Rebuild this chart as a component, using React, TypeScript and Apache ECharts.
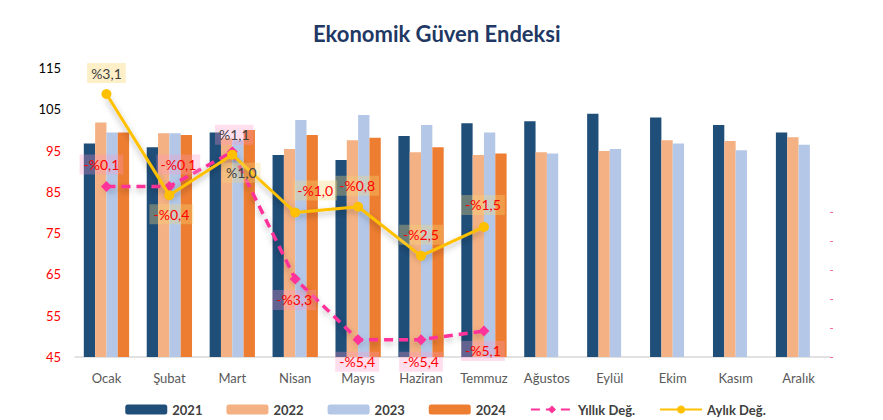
import React, { useEffect, useRef } from "react";
import * as echarts from "echarts";

const months = ["Ocak", "Şubat", "Mart", "Nisan", "Mayıs", "Haziran", "Temmuz", "Ağustos", "Eylül", "Ekim", "Kasım", "Aralık"];
const y2021 = [96.7, 95.8, 99.4, 93.9, 92.7, 98.5, 101.6, 102.1, 103.9, 103.0, 101.2, 99.4];
const y2022 = [101.8, 99.2, 98.0, 95.4, 97.5, 94.6, 93.9, 94.6, 94.9, 97.5, 97.3, 98.2];
const y2023 = [99.4, 99.2, 97.5, 102.4, 103.6, 101.2, 99.4, 94.3, 95.4, 96.7, 95.1, 96.4];
const y2024 = [99.4, 98.8, 100.0, 98.8, 98.1, 95.8, 94.3, null, null, null, null, null];
const yillik = [-0.1, -0.1, 1.1, -3.3, -5.4, -5.4, -5.1];
const aylik = [3.1, -0.4, 1.0, -1.0, -0.8, -2.5, -1.5];

const yillikOffsets = [[-5, -22], [9, -22], [2, -17], [-1, 21], [-1, 22], [0, 22], [-1, 20]];
const aylikOffsets = [[0, -21], [2, 19], [9, 18], [20, -22], [-1, -21], [0, -21], [-1, -22]];

const FONT = "Lato";

function fmt(v: number) {
  return (v < 0 ? "-" : "") + "%" + Math.abs(v).toFixed(1).replace(".", ",");
}

export default function App() {
  const ref = useRef<HTMLDivElement>(null);
  useEffect(() => {
    if (!ref.current) return;
    const chart = echarts.init(ref.current, null, { renderer: "svg" });
    const barColors = ["#1f4e79", "#f4b183", "#b4c7e7", "#ed7d31"];
    const barData = [y2021, y2022, y2023, y2024];
    const barNames = ["2021", "2022", "2023", "2024"];
    const bars = barData.map((d, i) => ({
      name: barNames[i],
      type: "bar",
      data: d,
      yAxisIndex: 0,
      barGap: "0%",
      barCategoryGap: "28%",
      itemStyle: { color: barColors[i] },
      z: 2,
    }));
    const yData = yillik.map((v, i) => ({
      value: v,
      label: {
        offset: yillikOffsets[i],
        color: i === 2 ? "#404040" : "#ff0000",
      },
    }));
    const aData = aylik.map((v, i) => ({
      value: v,
      label: {
        offset: aylikOffsets[i],
        color: i === 0 || i === 2 ? "#404040" : "#ff0000",
        backgroundColor: i === 0 ? "rgba(253,236,190,0.85)" : "rgba(245,215,120,0.35)",
      },
    }));
    chart.setOption({
      animation: false,
      title: {
        text: "Ekonomik Güven Endeksi",
        left: 300,
        top: 9,
        textStyle: { fontFamily: FONT, fontSize: 22, fontWeight: "bold", color: "#1f3864" },
      },
      legend: {
        top: 390,
        left: "center",
        itemWidth: 42,
        itemHeight: 10,
        itemGap: 24,
        textStyle: { fontFamily: FONT, fontSize: 13, fontWeight: "bold", color: "#404040" },
        data: ["2021", "2022", "2023", "2024", "Yıllık Değ.", "Aylık Değ."],
      },
      grid: { left: 67, right: 53, top: 60, bottom: 63 },
      xAxis: {
        type: "category",
        data: months,
        axisLine: { onZero: false, lineStyle: { color: "#d9d9d9", width: 1.5 } },
        axisTick: { show: false },
        axisLabel: { interval: 0, fontFamily: FONT, fontSize: 13, color: "#595959", margin: 14 },
      },
      yAxis: [
        {
          type: "value",
          min: 45,
          max: 115,
          interval: 10,
          splitLine: { show: false },
          axisLine: { show: false },
          axisTick: { show: false },
          axisLabel: {
            fontFamily: FONT,
            fontSize: 13,
            margin: 14,
            color: (v: number) => (v >= 105 ? "#000000" : "#ff0000"),
          },
        },
        {
          type: "value",
          min: -6,
          max: 4,
          interval: 1,
          splitLine: { show: false },
          axisLine: { show: false },
          axisTick: {
            show: true,
            inside: false,
            length: 3,
            lineStyle: { color: "#ff6b9a", width: 1 },
            customValues: [-6, -5, -4, -3, -2, -1],
          },
          axisLabel: { show: false },
        },
      ],
      series: [
        ...bars,
        {
          name: "Yıllık Değ.",
          type: "line",
          yAxisIndex: 1,
          data: yData,
          symbol: "diamond",
          symbolSize: 11,
          itemStyle: { color: "#ff3399" },
          lineStyle: { color: "#ff3399", width: 3.5, type: [9, 6], shadowColor: "rgba(0,0,0,0.3)", shadowBlur: 6, shadowOffsetY: 3 },
          z: 5,
          label: {
            show: true,
            position: "inside",
            formatter: (p: any) => fmt(p.value),
            fontFamily: FONT,
            fontSize: 14,
            padding: [3, 4],
            backgroundColor: "rgba(255,150,200,0.3)",
          },
        },
        {
          name: "Aylık Değ.",
          type: "line",
          yAxisIndex: 1,
          data: aData,
          symbol: "circle",
          symbolSize: 10,
          itemStyle: { color: "#ffc000" },
          lineStyle: { color: "#ffc000", width: 3, shadowColor: "rgba(0,0,0,0.3)", shadowBlur: 6, shadowOffsetY: 3 },
          z: 6,
          label: {
            show: true,
            position: "inside",
            formatter: (p: any) => fmt(p.value),
            fontFamily: FONT,
            fontSize: 14,
            padding: [3, 4],
          },
        },
      ],
    });
    return () => chart.dispose();
  }, []);
  return <div ref={ref} style={{ width: 875, height: 412 }} />;
}
